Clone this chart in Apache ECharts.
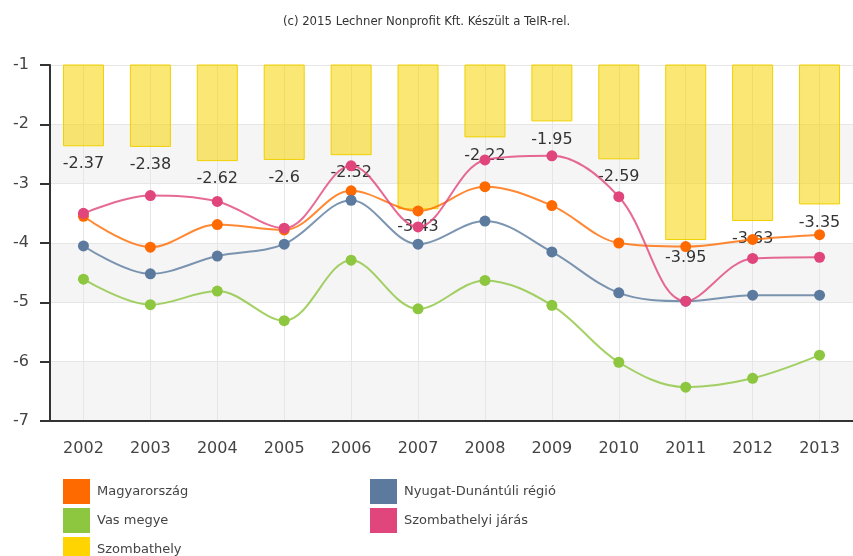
<!DOCTYPE html>
<html>
<head>
<meta charset="utf-8">
<script src="https://cdn.jsdelivr.net/npm/echarts@6/dist/echarts.min.js"></script>
<style>
    html, body { margin: 0; padding: 0; background: #fff; }
    #chart { width: 853px; height: 556px; }
</style>
</head>
<body>
<div id="chart"></div>
<script>
var years = ['2002', '2003', '2004', '2005', '2006', '2007', '2008', '2009', '2010', '2011', '2012', '2013'];
var magyarorszag = [-3.55, -4.07, -3.69, -3.78, -3.12, -3.46, -3.05, -3.37, -4.0, -4.06, -3.94, -3.86];
var nyugatDunantul = [-4.05, -4.52, -4.22, -4.02, -3.28, -4.02, -3.63, -4.15, -4.84, -4.98, -4.88, -4.88];
var vasMegye = [-4.61, -5.04, -4.81, -5.31, -4.29, -5.11, -4.63, -5.05, -6.01, -6.43, -6.28, -5.89];
var szombathelyiJaras = [-3.5, -3.2, -3.3, -3.75, -2.7, -3.73, -2.6, -2.53, -3.22, -4.98, -4.26, -4.24];
var szombathely = [-2.37, -2.38, -2.62, -2.6, -2.52, -3.43, -2.22, -1.95, -2.59, -3.95, -3.63, -3.35];

var labelFont = 'DejaVu Sans';
var narrowFont = '"DejaVu Sans Condensed", "Liberation Sans", sans-serif';

function lineSeries(name, data, color) {
    return {
        name: name,
        type: 'line',
        data: data,
        smooth: 0.35,
        symbol: 'circle',
        symbolSize: 11,
        itemStyle: { color: color },
        lineStyle: { color: color, width: 2, opacity: 0.8 }
    };
}

var legendBase = {
    orient: 'vertical',
    top: 474,
    height: 100,
    icon: 'rect',
    itemWidth: 27,
    itemHeight: 25,
    itemGap: 4,
    textStyle: { fontFamily: labelFont, fontSize: 13, color: '#444', padding: [0, 0, 0, 2] }
};

var myChart = echarts.init(document.getElementById('chart'));
myChart.setOption({
    backgroundColor: '#ffffff',
    animation: false,
    title: {
        text: '(c) 2015 Lechner Nonprofit Kft. Készült a TeIR-rel.',
        left: 'center',
        top: 10,
        textStyle: { fontFamily: narrowFont, fontSize: 13, fontWeight: 'normal', color: '#333' }
    },
    grid: { left: 50, right: -7, top: 65, bottom: 135 },
    legend: [
        Object.assign({}, legendBase, {
            left: 58,
            data: [
                { name: 'Magyarország' },
                { name: 'Vas megye' },
                { name: 'Szombathely', itemStyle: { color: '#ffd400', opacity: 1, borderWidth: 0 } }
            ]
        }),
        Object.assign({}, legendBase, {
            left: 365,
            data: ['Nyugat-Dunántúli régió', 'Szombathelyi járás']
        })
    ],
    xAxis: {
        type: 'category',
        data: years,
        axisLine: { lineStyle: { color: '#333', width: 2 } },
        axisTick: { alignWithLabel: true, length: 8, lineStyle: { color: '#333', width: 2 } },
        axisLabel: { margin: 20, fontFamily: labelFont, fontSize: 16, color: '#444' },
        splitLine: { show: true, alignWithLabel: true, lineStyle: { color: '#e6e6e6' } }
    },
    yAxis: {
        type: 'value',
        min: -7,
        max: -1,
        interval: 1,
        axisLine: { show: true, lineStyle: { color: '#333', width: 2 } },
        axisTick: { show: true, length: 10, lineStyle: { color: '#333', width: 2 } },
        axisLabel: { margin: 21, fontFamily: labelFont, fontSize: 16, color: '#444' },
        splitLine: { lineStyle: { color: '#e6e6e6' } },
        splitArea: { show: true, areaStyle: { color: ['#f5f5f5', '#ffffff'] } }
    },
    series: [
        {
            name: 'Szombathely',
            type: 'bar',
            data: szombathely,
            barWidth: 41,
            itemStyle: { color: 'rgba(248, 212, 0, 0.55)', borderColor: '#f0d000', borderWidth: 1 },
            label: {
                show: true,
                position: 'bottom',
                distance: 10,
                fontFamily: labelFont,
                fontSize: 16,
                color: '#333'
            }
        },
        lineSeries('Magyarország', magyarorszag, '#ff6a00'),
        lineSeries('Nyugat-Dunántúli régió', nyugatDunantul, '#5b7a9e'),
        lineSeries('Vas megye', vasMegye, '#8dc63f'),
        lineSeries('Szombathelyi járás', szombathelyiJaras, '#e0457b')
    ]
});
</script>
</body>
</html>
